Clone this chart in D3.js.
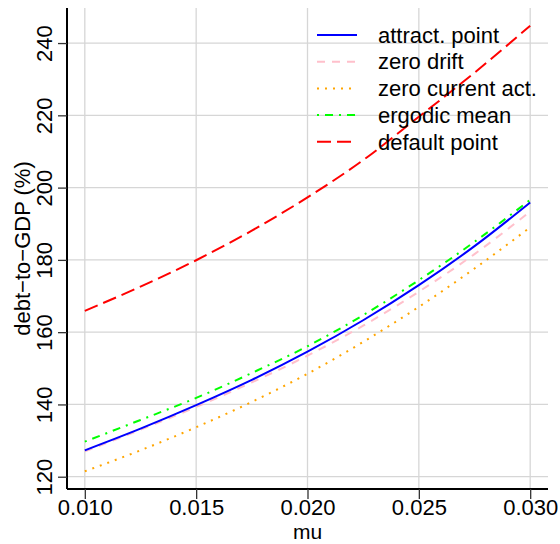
<!DOCTYPE html>
<html>
<head>
<meta charset="utf-8">
<script src="https://cdn.jsdelivr.net/npm/d3@7"></script>
<style>
  html, body { margin: 0; padding: 0; background: #fff; }
  svg { display: block; }
  text { font-family: "Liberation Sans", Arial, Helvetica, sans-serif; }
</style>
</head>
<body>
<script>
// ---- data ----
const mu = [0.010, 0.0125, 0.015, 0.0175, 0.020, 0.0225, 0.025, 0.0275, 0.030];
const attractPoint   = [127.3, 133.3, 139.8, 146.8, 154.6, 163.3, 173.0, 183.8, 195.9];
const zeroDrift      = [127.0, 133.0, 139.3, 146.1, 153.5, 161.8, 171.2, 181.6, 193.4];
const zeroCurrentAct = [121.5, 127.3, 133.7, 140.7, 148.5, 157.3, 167.0, 177.6, 189.0];
const ergodicMean    = [129.7, 135.7, 141.8, 148.7, 156.1, 164.7, 174.4, 185.0, 196.6];
const defaultPoint   = [165.9, 172.6, 179.9, 188.1, 197.3, 207.6, 219.6, 231.8, 244.8];
const xTicks = [0.010, 0.015, 0.020, 0.025, 0.030];
const yTicks = [120, 140, 160, 180, 200, 220, 240];
const seriesNames = ["attract. point", "zero drift", "zero current act.", "ergodic mean", "default point"];

const W = 560, H = 544;
const svg = d3.select("body").append("svg").attr("width", W).attr("height", H);

const x = d3.scaleLinear().domain([0.0092, 0.0308]).range([67, 548]);
const y = d3.scaleLinear().domain([116.6, 249.7]).range([489, 8]);

const FS = 22;

// grid
const grid = svg.append("g");
grid.selectAll("line.v").data(xTicks).enter().append("line")
  .attr("x1", d => x(d)).attr("x2", d => x(d))
  .attr("y1", y.range()[1]).attr("y2", y.range()[0])
  .attr("stroke", "#d6d6d6").attr("stroke-width", 1.3);
grid.selectAll("line.h").data(yTicks).enter().append("line")
  .attr("y1", d => y(d)).attr("y2", d => y(d))
  .attr("x1", x.range()[0]).attr("x2", x.range()[1])
  .attr("stroke", "#d6d6d6").attr("stroke-width", 1.3);

// axes
const xAxis = d3.axisBottom(x).tickValues(xTicks).tickFormat(d3.format(".3f")).tickSize(10).tickPadding(0.5);
const gx = svg.append("g").attr("transform", `translate(0,${y.range()[0]})`).call(xAxis);
gx.select(".domain").attr("stroke", "#000").attr("stroke-width", 2).attr("d", `M${x.range()[0]},0H${x.range()[1]}`);
gx.selectAll(".tick line").attr("stroke", "#333").attr("stroke-width", 1.3);
gx.selectAll(".tick text").attr("font-size", FS).attr("fill", "#000")
  .attr("font-family", "Liberation Sans, Arial, sans-serif");

const yAxis = d3.axisLeft(y).tickValues(yTicks).tickFormat(d3.format("d")).tickSize(9).tickPadding(0);
const gy = svg.append("g").attr("transform", `translate(${x.range()[0]},0)`).call(yAxis);
gy.select(".domain").attr("stroke", "#000").attr("stroke-width", 2).attr("d", `M0,${y.range()[0]}V${y.range()[1]}`);
gy.selectAll(".tick line").attr("stroke", "#333").attr("stroke-width", 1.3);
gy.selectAll(".tick text")
  .attr("font-size", FS).attr("fill", "#000")
  .attr("font-family", "Liberation Sans, Arial, sans-serif")
  .attr("text-anchor", "middle")
  .attr("x", 0).attr("dy", 0)
  .attr("transform", "translate(-15,0) rotate(-90)");

// axis titles
svg.append("text").attr("x", (x.range()[0] + x.range()[1]) / 2).attr("y", 539.3)
  .attr("text-anchor", "middle").attr("font-size", 21).text("mu");
svg.append("text")
  .attr("transform", `translate(30,${(y.range()[0] + y.range()[1]) / 2}) rotate(-90)`)
  .attr("text-anchor", "middle").attr("font-size", FS).text("debt\u2212to\u2212GDP (%)");

// series
const series = [
  { name: seriesNames[1], vals: zeroDrift,      color: "#ffc0cb", dash: "8,7",       w: 2 },
  { name: seriesNames[2], vals: zeroCurrentAct, color: "#ffa500", dash: "2,6",       w: 2 },
  { name: seriesNames[3], vals: ergodicMean,    color: "#00ff00", dash: "2,6,8,6",   w: 2 },
  { name: seriesNames[4], vals: defaultPoint,   color: "#ff0000", dash: "14,6",      w: 2 },
  { name: seriesNames[0], vals: attractPoint,   color: "#0000ff", dash: null,        w: 2 }
];
const line = d3.line().x(d => x(d[0])).y(d => y(d[1])).curve(d3.curveMonotoneX);
series.forEach(s => {
  svg.append("path")
    .datum(mu.map((m, i) => [m, s.vals[i]]))
    .attr("d", line)
    .attr("fill", "none")
    .attr("stroke", s.color)
    .attr("stroke-width", s.w)
    .attr("stroke-dasharray", s.dash);
});

// legend
const legendOrder = [4, 0, 1, 2, 3];
const lg = svg.append("g");
const lx0 = 317, lx1 = 357, tx = 378, ly0 = 35, dy = 26.7;
legendOrder.forEach((si, i) => {
  const s = series[si];
  const yy = ly0 + i * dy;
  lg.append("line").attr("x1", lx0).attr("x2", lx1).attr("y1", yy).attr("y2", yy)
    .attr("stroke", s.color).attr("stroke-width", s.w).attr("stroke-dasharray", s.dash);
  lg.append("text").attr("x", tx).attr("y", yy).attr("dy", "0.35em")
    .attr("font-size", FS).text(s.name);
});
</script>
</body>
</html>
